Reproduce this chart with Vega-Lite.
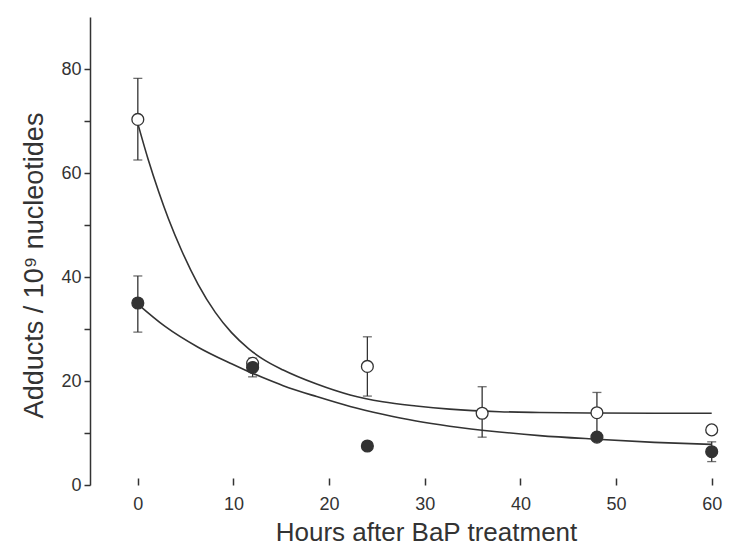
{
  "$schema": "https://vega.github.io/schema/vega-lite/v6.json",
  "width": 659,
  "height": 468,
  "autosize": "none",
  "padding": {"left": 90, "top": 17, "right": 0, "bottom": 61},
  "background": "white",
  "config": {
    "view": {"stroke": null},
    "axis": {
      "domainColor": "#333333",
      "tickColor": "#333333",
      "labelColor": "#333333",
      "titleColor": "#333333",
      "labelFont": "Liberation Sans",
      "titleFont": "Liberation Sans",
      "labelFontSize": 18,
      "titleFontSize": 26,
      "titleFontWeight": "normal",
      "grid": false,
      "domainWidth": 1.5,
      "tickWidth": 1.5
    }
  },
  "datasets": {
    "curves": [
      {"t": 0, "v": 69.5, "g": "open"},
      {"t": 1.1, "v": 62.5, "g": "open"},
      {"t": 2.2, "v": 56.3, "g": "open"},
      {"t": 3.2, "v": 51.2, "g": "open"},
      {"t": 4.6, "v": 45.0, "g": "open"},
      {"t": 6.3, "v": 38.6, "g": "open"},
      {"t": 8.1, "v": 33.2, "g": "open"},
      {"t": 9.8, "v": 29.3, "g": "open"},
      {"t": 11.6, "v": 26.2, "g": "open"},
      {"t": 13, "v": 24.3, "g": "open"},
      {"t": 15.2, "v": 22.1, "g": "open"},
      {"t": 18.7, "v": 19.4, "g": "open"},
      {"t": 22.2, "v": 17.3, "g": "open"},
      {"t": 25.6, "v": 16.0, "g": "open"},
      {"t": 29.1, "v": 15.2, "g": "open"},
      {"t": 32.6, "v": 14.6, "g": "open"},
      {"t": 37.8, "v": 14.1, "g": "open"},
      {"t": 42, "v": 13.95, "g": "open"},
      {"t": 48, "v": 13.85, "g": "open"},
      {"t": 54, "v": 13.8, "g": "open"},
      {"t": 60, "v": 13.8, "g": "open"},
      {"t": 0, "v": 34.8, "g": "filled"},
      {"t": 2.85, "v": 30.5, "g": "filled"},
      {"t": 6.3, "v": 26.5, "g": "filled"},
      {"t": 9.8, "v": 23.3, "g": "filled"},
      {"t": 11.7, "v": 21.7, "g": "filled"},
      {"t": 13, "v": 20.7, "g": "filled"},
      {"t": 15.2, "v": 19.1, "g": "filled"},
      {"t": 18.7, "v": 17.0, "g": "filled"},
      {"t": 22.2, "v": 15.1, "g": "filled"},
      {"t": 25.6, "v": 13.6, "g": "filled"},
      {"t": 29.1, "v": 12.3, "g": "filled"},
      {"t": 32.6, "v": 11.3, "g": "filled"},
      {"t": 37.8, "v": 10.2, "g": "filled"},
      {"t": 42, "v": 9.5, "g": "filled"},
      {"t": 48, "v": 8.8, "g": "filled"},
      {"t": 54, "v": 8.2, "g": "filled"},
      {"t": 60, "v": 7.8, "g": "filled"}
    ],
    "points": [
      {"t": 0, "v": 70.3, "lo": 62.5, "hi": 78.2, "g": "open"},
      {"t": 12, "v": 23.4, "lo": null, "hi": null, "g": "open"},
      {"t": 24, "v": 22.8, "lo": 17.1, "hi": 28.5, "g": "open"},
      {"t": 36, "v": 13.8, "lo": 9.2, "hi": 18.9, "g": "open"},
      {"t": 48, "v": 13.9, "lo": 10.0, "hi": 17.8, "g": "open"},
      {"t": 60, "v": 10.6, "lo": null, "hi": null, "g": "open"},
      {"t": 0, "v": 35.0, "lo": 29.4, "hi": 40.2, "g": "filled"},
      {"t": 12, "v": 22.6, "lo": 20.8, "hi": 24.4, "g": "filled"},
      {"t": 24, "v": 7.5, "lo": null, "hi": null, "g": "filled"},
      {"t": 48, "v": 9.2, "lo": null, "hi": null, "g": "filled"},
      {"t": 60, "v": 6.4, "lo": 4.5, "hi": 8.3, "g": "filled"}
    ]
  },
  "layer": [
    {
      "mark": {"type": "rule", "color": "#333333", "strokeWidth": 1.5},
      "encoding": {"y": {"datum": 90, "type": "quantitative", "scale": {"domain": [0, 90]}}}
    },
    {
      "mark": {"type": "rule", "color": "#333333", "strokeWidth": 1.5},
      "encoding": {"y": {"datum": 0, "type": "quantitative"}}
    },
    {
      "data": {"name": "curves"},
      "mark": {"type": "line", "color": "#333333", "strokeWidth": 1.6, "interpolate": "monotone"},
      "encoding": {
        "x": {
          "field": "t", "type": "quantitative",
          "scale": {"domain": [-5, 63.9], "nice": false, "zero": false},
          "axis": {
            "title": "Hours after BaP treatment",
            "values": [0, 10, 20, 30, 40, 50, 60],
            "domain": false,
            "offset": -7,
            "tickSize": 7,
            "labelPadding": 10,
            "titleX": 336,
            "titleY": 62,
            "titleBaseline": "alphabetic",
            "titleAnchor": "middle"
          }
        },
        "y": {
          "field": "v", "type": "quantitative",
          "scale": {"domain": [0, 90], "nice": false},
          "axis": {
            "title": "Adducts / 10⁹ nucleotides",
            "titleFontSize": 27,
            "values": [0, 10, 20, 30, 40, 50, 60, 70, 80],
            "labelExpr": "datum.value % 20 === 0 ? datum.label : ''",
            "tickSize": 6,
            "labelPadding": 3,
            "titleX": -48,
            "titleY": 248,
            "titleBaseline": "alphabetic",
            "titleAnchor": "middle"
          }
        },
        "detail": {"field": "g"}
      }
    },
    {
      "data": {"name": "points"},
      "mark": {"type": "rule", "color": "#333333", "strokeWidth": 1.3},
      "encoding": {
        "x": {"field": "t", "type": "quantitative"},
        "y": {"field": "lo", "type": "quantitative"},
        "y2": {"field": "hi"}
      }
    },
    {
      "data": {"name": "points"},
      "mark": {"type": "tick", "color": "#333333", "orient": "horizontal", "size": 9, "thickness": 1.3},
      "encoding": {
        "x": {"field": "t", "type": "quantitative"},
        "y": {"field": "lo", "type": "quantitative"}
      }
    },
    {
      "data": {"name": "points"},
      "mark": {"type": "tick", "color": "#333333", "orient": "horizontal", "size": 9, "thickness": 1.3},
      "encoding": {
        "x": {"field": "t", "type": "quantitative"},
        "y": {"field": "hi", "type": "quantitative"}
      }
    },
    {
      "data": {"name": "points"},
      "mark": {"type": "point", "filled": true, "size": 140, "strokeWidth": 1.3, "stroke": "#333333", "opacity": 1},
      "encoding": {
        "x": {"field": "t", "type": "quantitative"},
        "y": {"field": "v", "type": "quantitative"},
        "fill": {
          "field": "g", "type": "nominal",
          "scale": {"domain": ["open", "filled"], "range": ["#ffffff", "#333333"]},
          "legend": null
        }
      }
    }
  ]
}
